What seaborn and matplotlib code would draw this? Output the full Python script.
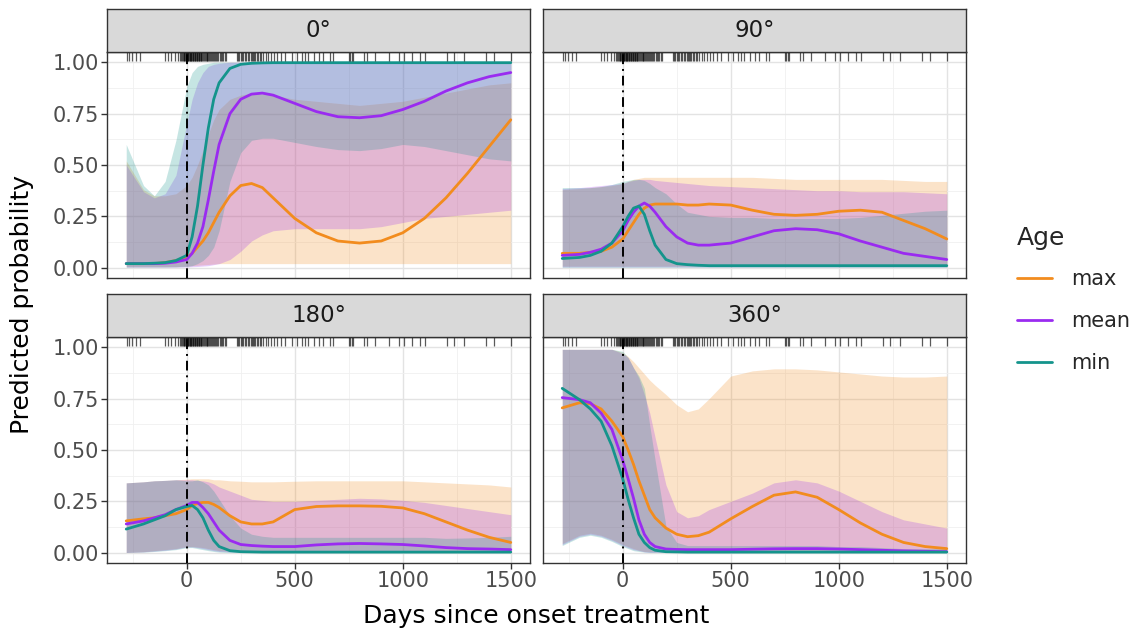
import numpy as np
import pandas as pd
import seaborn as sns
import matplotlib.pyplot as plt
from matplotlib.lines import Line2D

sns.set_theme(style='white')
plt.rcParams['font.family'] = ['DejaVu Sans']

# days since onset treatment, shared grid of the fitted curves
days = [-280, -200, -150, -100, -50, 0, 25, 50, 75, 100, 125, 150, 200, 250, 300,
        350, 400, 500, 600, 700, 800, 900, 1000, 1100, 1200, 1300, 1400, 1500]

ages = ['max', 'mean', 'min']
angles = ['0°', '90°', '180°', '360°']
colors = {'max': '#F28C1E', 'mean': '#9A2BF0', 'min': '#14948C'}

# ---- 0 degrees ----
fit_0_max = [.02, .02, .02, .025, .035, .05, .07, .1, .13, .17, .22, .27, .35, .4, .41,
             .39, .34, .24, .17, .13, .12, .13, .17, .24, .34, .46, .59, .72]
lo_0_max = [.005, .005, .005, .005, .005, .008, .01, .012, .014, .016, .018, .02, .02, .02, .02,
            .02, .02, .02, .02, .02, .02, .02, .02, .02, .02, .02, .02, .02]
hi_0_max = [.52, .38, .35, .35, .36, .4, .44, .5, .57, .65, .72, .77, .82, .84, .85,
            .845, .84, .82, .81, .8, .79, .8, .81, .83, .85, .87, .89, .9]
fit_0_mean = [.02, .02, .02, .022, .028, .04, .07, .12, .2, .33, .47, .6, .75, .82, .845,
              .85, .84, .8, .76, .735, .73, .74, .77, .81, .86, .9, .93, .95]
lo_0_mean = [.003, .003, .003, .003, .003, .004, .005, .006, .008, .01, .015, .02, .04, .08, .13,
             .16, .18, .19, .19, .19, .19, .2, .22, .24, .25, .26, .27, .28]
hi_0_mean = [.5, .37, .34, .36, .45, .7, .82, .9, .95, .98, .99, .995, 1, 1, 1,
             1, 1, 1, 1, 1, 1, 1, 1, 1, 1, 1, 1, 1]
fit_0_min = [.02, .02, .022, .025, .035, .06, .15, .3, .5, .68, .82, .9, .97, .99, .995,
             .997, .998, .998, .998, .998, .998, .998, .998, .998, .998, .998, .998, .998]
lo_0_min = [.003, .003, .003, .003, .004, .006, .01, .02, .035, .06, .1, .18, .42, .56, .62,
            .63, .63, .61, .59, .575, .57, .58, .6, .59, .57, .55, .53, .52]
hi_0_min = [.6, .4, .35, .42, .62, .88, .95, .98, .99, .995, 1, 1, 1, 1, 1,
            1, 1, 1, 1, 1, 1, 1, 1, 1, 1, 1, 1, 1]

# ---- 90 degrees ----
fit_90_max = [.07, .07, .075, .08, .1, .14, .18, .22, .26, .29, .305, .31, .31, .31, .305,
              .305, .31, .305, .28, .26, .255, .26, .275, .28, .27, .23, .19, .14]
lo_90_max = [.008] * 28
hi_90_max = [.38, .385, .39, .395, .4, .41, .42, .43, .435, .44, .44, .44, .44, .44, .44,
             .44, .44, .44, .44, .435, .43, .43, .43, .43, .43, .425, .42, .42]
fit_90_mean = [.06, .065, .075, .09, .12, .18, .23, .27, .3, .315, .3, .27, .2, .15, .12,
               .11, .11, .12, .15, .18, .19, .185, .165, .13, .1, .07, .055, .04]
lo_90_mean = [.004] * 28
hi_90_mean = [.385, .39, .395, .4, .405, .41, .42, .425, .43, .43, .43, .425, .42, .415, .41,
              .405, .4, .395, .39, .385, .38, .375, .375, .37, .37, .37, .365, .36]
fit_90_min = [.045, .05, .06, .08, .12, .2, .25, .29, .3, .26, .18, .11, .04, .02, .015,
              .012, .01, .01, .01, .01, .01, .01, .01, .01, .01, .01, .01, .01]
lo_90_min = [.002] * 28
hi_90_min = [.39, .39, .39, .395, .405, .42, .425, .43, .43, .425, .41, .39, .36, .31, .27,
             .26, .25, .245, .245, .24, .24, .24, .24, .245, .255, .265, .275, .28]

# ---- 180 degrees ----
fit_180_max = [.155, .165, .17, .18, .19, .21, .23, .24, .245, .245, .235, .22, .18, .15, .14,
               .14, .15, .21, .225, .228, .228, .226, .218, .19, .15, .11, .075, .05]
lo_180_max = [.002, .005, .01, .015, .02, .03, .03, .028, .025, .02, .015, .01, .008, .006, .005,
              .005, .005, .005, .005, .005, .005, .005, .005, .005, .005, .005, .005, .005]
hi_180_max = [.34, .345, .35, .352, .355, .358, .36, .36, .36, .36, .355, .355, .35, .348, .345,
              .345, .345, .348, .35, .35, .35, .35, .35, .345, .34, .335, .33, .32]
fit_180_mean = [.14, .155, .17, .185, .21, .23, .245, .245, .22, .19, .15, .11, .06, .04, .035,
                .032, .03, .03, .038, .043, .045, .043, .04, .033, .025, .02, .018, .015]
lo_180_mean = [.001, .004, .008, .012, .018, .028, .028, .025, .02, .015, .01, .006, .004, .003, .003,
               .003, .003, .003, .003, .003, .003, .003, .003, .003, .003, .003, .003, .003]
hi_180_mean = [.34, .345, .35, .352, .355, .355, .355, .352, .35, .345, .335, .32, .3, .28, .26,
               .255, .25, .25, .255, .26, .265, .262, .255, .245, .23, .215, .2, .185]
fit_180_min = [.115, .14, .16, .18, .21, .225, .23, .21, .17, .11, .06, .03, .01, .005, .004,
               .003, .003, .003, .003, .003, .003, .003, .003, .003, .003, .003, .003, .003]
lo_180_min = [.001, .003, .006, .01, .015, .025, .025, .02, .015, .01, .006, .003, .001, .001, .001,
              .001, .001, .001, .001, .001, .001, .001, .001, .001, .001, .001, .001, .001]
hi_180_min = [.34, .345, .35, .352, .355, .35, .35, .355, .345, .33, .3, .26, .18, .12, .09,
              .08, .075, .075, .075, .075, .075, .075, .075, .075, .07, .072, .075, .08]

# ---- 360 degrees ----
fit_360_max = [.705, .73, .725, .7, .64, .565, .5, .43, .35, .28, .21, .17, .12, .09, .078,
               .083, .1, .165, .225, .28, .296, .27, .21, .145, .09, .05, .03, .02]
lo_360_max = [.045, .085, .095, .085, .065, .04, .03, .02, .012, .006, .005, .005, .005, .005, .005,
              .005, .005, .005, .005, .005, .005, .005, .005, .005, .005, .005, .005, .005]
hi_360_max = [.99, .99, .99, .99, .99, .975, .955, .93, .9, .87, .84, .815, .77, .72, .686,
              .7, .75, .86, .885, .895, .895, .89, .88, .87, .86, .855, .855, .86]
fit_360_mean = [.755, .745, .73, .68, .6, .45, .36, .265, .16, .09, .05, .03, .018, .016, .015,
                .015, .015, .015, .017, .019, .02, .02, .018, .015, .012, .009, .007, .005]
lo_360_mean = [.04, .08, .09, .08, .06, .035, .025, .015, .01, .004, .002, .002, .002, .002, .002,
               .002, .002, .002, .002, .002, .002, .002, .002, .002, .002, .002, .002, .002]
hi_360_mean = [.99, .99, .99, .99, .99, .97, .95, .9, .85, .77, .68, .56, .33, .2, .17,
               .18, .21, .25, .29, .34, .355, .34, .3, .25, .2, .16, .14, .12]
fit_360_min = [.8, .745, .7, .64, .52, .36, .26, .17, .09, .05, .025, .012, .005, .004, .003,
               .003, .003, .003, .003, .003, .003, .003, .003, .003, .003, .003, .003, .003]
lo_360_min = [.035, .075, .085, .075, .055, .03, .02, .01, .006, .003, .001, .001, .001, .001, .001,
              .001, .001, .001, .001, .001, .001, .001, .001, .001, .001, .001, .001, .001]
hi_360_min = [.99, .99, .99, .99, .99, .98, .95, .9, .86, .8, .62, .45, .13, .05, .035,
              .035, .035, .035, .035, .035, .035, .035, .03, .03, .025, .02, .02, .02]

# observed follow-up times (rug on top of every panel)
rug_days = [-277, -265, -252, -237, -215, -102, -87, -71, -56, -40, -30, -25,
            -20, -17, -14, -11, -8, -5, -2, 0, 2, 4, 7, 10, 13, 16, 19, 22, 25, 28,
            31, 34, 37, 40, 43, 46, 49, 52, 55, 58, 61, 64, 68, 72, 76, 80, 84, 88,
            92, 96, 100, 104, 108, 112, 117, 122, 127, 132, 137, 142, 147, 152, 158,
            164, 170, 176, 183, 232, 238, 244, 250, 256, 262, 268, 275, 282, 290, 298,
            302, 305, 312, 318, 324, 330, 338, 346, 355, 365, 378, 392, 405, 420, 438,
            455, 486, 509, 532, 548, 563, 587, 610, 633, 664, 679, 749, 757, 764, 772,
            819, 834, 873, 935, 981, 1005, 1043, 1082, 1105, 1206, 1237, 1284, 1385,
            1423, 1500]

curves = {
    '0°': {'max': (fit_0_max, lo_0_max, hi_0_max), 'mean': (fit_0_mean, lo_0_mean, hi_0_mean),
           'min': (fit_0_min, lo_0_min, hi_0_min)},
    '90°': {'max': (fit_90_max, lo_90_max, hi_90_max), 'mean': (fit_90_mean, lo_90_mean, hi_90_mean),
            'min': (fit_90_min, lo_90_min, hi_90_min)},
    '180°': {'max': (fit_180_max, lo_180_max, hi_180_max), 'mean': (fit_180_mean, lo_180_mean, hi_180_mean),
             'min': (fit_180_min, lo_180_min, hi_180_min)},
    '360°': {'max': (fit_360_max, lo_360_max, hi_360_max), 'mean': (fit_360_mean, lo_360_mean, hi_360_mean),
             'min': (fit_360_min, lo_360_min, hi_360_min)},
}

rows = []
for ang in angles:
    for age in ages:
        fit, lo, hi = curves[ang][age]
        rows.append(pd.DataFrame({'Days': days, 'prob': fit, 'lo': lo, 'hi': hi,
                                  'Age': age, 'Angle': ang}))
df = pd.concat(rows, ignore_index=True)

W, H = 1132, 631
fig = plt.figure(figsize=(W / 100, H / 100), dpi=100)

# panel boxes in pixels: (left, top of plot area)
panels = {'0°': (107, 52), '90°': (543, 52), '180°': (107, 337), '360°': (543, 337)}
pw, ph, sh = 423, 226, 43

for ang in angles:
    px, py = panels[ang]
    ax = fig.add_axes([px / W, 1 - (py + ph) / H, pw / W, ph / H])
    st = fig.add_axes([px / W, 1 - py / H, pw / W, sh / H])
    st.set_facecolor('#D9D9D9')
    st.set_xticks([])
    st.set_yticks([])
    for s in st.spines.values():
        s.set_color('#333333')
        s.set_linewidth(1.0)
    st.text(0.5, 0.5, ang, ha='center', va='center', fontsize=16.5, color='#1A1A1A',
            transform=st.transAxes)

    sub = df[df['Angle'] == ang]
    for age in ages:
        g = sub[sub['Age'] == age]
        ax.fill_between(g['Days'], g['lo'], g['hi'], color=colors[age], alpha=0.24,
                        linewidth=0, zorder=2)
    sns.lineplot(data=sub, x='Days', y='prob', hue='Age', hue_order=ages, palette=colors,
                 estimator=None, linewidth=2.0, legend=False, ax=ax, zorder=4)
    ax.axvline(0, color='black', linewidth=1.4, linestyle=(0, (5, 2.5, 1, 2.5)), zorder=5)
    ax.vlines(rug_days, 0.962, 1.0, transform=ax.get_xaxis_transform(), color='black',
              linewidth=0.9, alpha=0.65, zorder=6)

    ax.set_xlim(-369, 1589)
    ax.set_ylim(-0.05, 1.05)
    ax.set_xticks([0, 500, 1000, 1500])
    ax.set_xticks([-250, 250, 750, 1250], minor=True)
    ax.set_yticks([0, .25, .5, .75, 1.0])
    ax.set_yticks([.125, .375, .625, .875], minor=True)
    ax.grid(True, which='major', color='#E3E3E3', linewidth=1.0, zorder=0)
    ax.grid(True, which='minor', color='#F0F0F0', linewidth=0.6, zorder=0)
    ax.set_axisbelow(True)
    ax.set_xlabel('')
    ax.set_ylabel('')
    for s in ax.spines.values():
        s.set_color('#333333')
        s.set_linewidth(1.0)
    ax.tick_params(which='minor', length=0)
    bottom = ang in ('180°', '360°')
    left = ang in ('0°', '180°')
    ax.tick_params(axis='x', which='major', bottom=bottom, labelbottom=bottom, length=4,
                   width=1, color='#333333', labelsize=15, labelcolor='#4D4D4D', pad=2)
    ax.tick_params(axis='y', which='major', left=left, labelleft=left, length=4,
                   width=1, color='#333333', labelsize=15, labelcolor='#4D4D4D', pad=2)
    if left:
        ax.set_yticklabels(['0.00', '0.25', '0.50', '0.75', '1.00'])

fig.text(22 / W, 1 - 305 / H, 'Predicted probability', rotation=90, ha='center',
         va='center', fontsize=18, color='black')
fig.text(536 / W, 1 - 616 / H, 'Days since onset treatment', ha='center', va='center',
         fontsize=18, color='black')

handles = [Line2D([], [], color=colors[a], linewidth=2.0) for a in ages]
leg = fig.legend(handles, ages, title='Age', loc='upper left',
                 bbox_to_anchor=(998 / W, 1 - 207 / H), frameon=False, fontsize=15,
                 title_fontsize=18, handlelength=1.7, labelspacing=1.05, handletextpad=0.9)
leg._legend_box.align = 'left'
leg._legend_box.sep = 14

fig.savefig('out.png', dpi=100)
